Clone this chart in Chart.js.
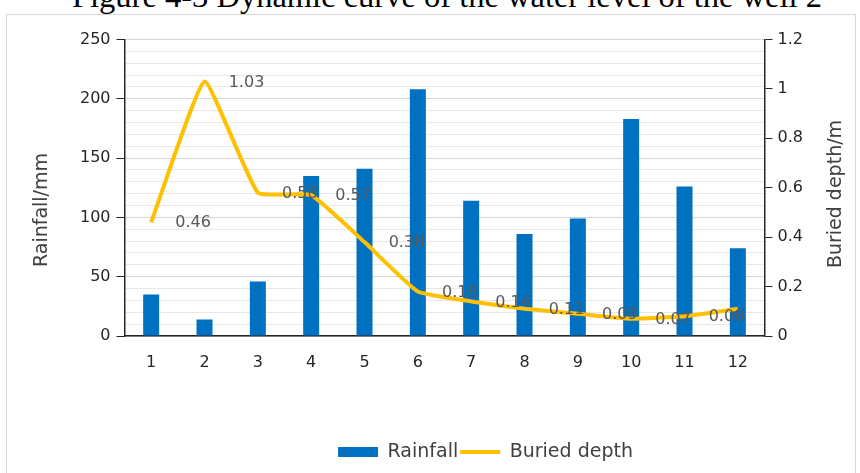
<!DOCTYPE html>
<html>
<head>
<meta charset="utf-8">
<script src="https://cdn.jsdelivr.net/npm/chart.js@4/dist/chart.umd.min.js"></script>
<style>
  html, body { margin: 0; padding: 0; background: #fff; }
  body { width: 860px; height: 473px; position: relative; overflow: hidden; }
  #caption {
    position: absolute; left: 17px; top: -20px; width: 860px;
    text-align: center; white-space: nowrap;
    font-family: "Liberation Serif", serif; font-size: 32.5px; line-height: 32.5px; color: #000;
  }
  #frame { position: absolute; left: 6px; top: 14px; width: 848px; height: 500px; border: 1px solid #d6d6d6; }
  #wrap { position: absolute; left: 0; top: 0; width: 860px; height: 473px; }
</style>
</head>
<body>
<div id="caption">Figure 4-3 Dynamic curve of the water level of the well 2</div>
<div id="frame"></div>
<div id="wrap"><canvas id="myChart"></canvas></div>
<script>
// data
const months = ['1', '2', '3', '4', '5', '6', '7', '8', '9', '10', '11', '12'];
const rainfall = [35, 14, 46, 135, 141, 208, 114, 86, 99, 183, 126, 74];
const buriedDepth = [0.46, 1.03, 0.58, 0.57, 0.38, 0.18, 0.14, 0.11, 0.09, 0.07, 0.08, 0.11];
const rainTicks = [0, 50, 100, 150, 200, 250];
const depthTicks = [0, 0.2, 0.4, 0.6, 0.8, 1, 1.2];

const FONT = 'DejaVu Sans';
const AXIS_COLOR = '#262626';

// value labels sit to the right of each point; a label that would run past the plot is dropped
const pointLabels = {
    id: 'pointLabels',
    afterDatasetsDraw(chart) {
        const meta = chart.getDatasetMeta(1);
        const area = chart.chartArea;
        const ctx = chart.ctx;
        ctx.save();
        ctx.font = '16px "' + FONT + '"';
        ctx.fillStyle = '#595959';
        ctx.textAlign = 'center';
        ctx.textBaseline = 'middle';
        meta.data.forEach(function (pt, i) {
            let txt = buriedDepth[i].toFixed(2);
            let x = pt.x + 42;
            if (x + ctx.measureText(txt).width / 2 > area.right) return;
            ctx.fillText(txt, x, pt.y + 1);
        });
        ctx.restore();
    }
};

// axis titles (placed where the original has them, not centred on the axis)
const axisTitles = {
    id: 'axisTitles',
    afterDraw(chart) {
        const ctx = chart.ctx;
        const drawTitle = function (text, x, y) {
            ctx.save();
            ctx.font = '19px "' + FONT + '"';
            ctx.fillStyle = '#404040';
            ctx.textAlign = 'center';
            ctx.textBaseline = 'middle';
            ctx.translate(x, y);
            ctx.rotate(-Math.PI / 2);
            ctx.fillText(text, 0, 0);
            ctx.restore();
        };
        drawTitle('Rainfall/mm', 42, 210);
        drawTitle('Buried depth/m', 836, 194);
    }
};

// the original legend is centred right of the canvas middle
const legendShift = {
    id: 'legendShift',
    afterLayout(chart) {
        if (chart.legend) chart.legend.left = 111;
    }
};

let canvas = document.getElementById('myChart');
let myChart = new Chart(canvas, {
    type: 'bar',
    data: {
        labels: months,
        datasets: [{
            type: 'bar',
            label: 'Rainfall',
            data: rainfall,
            backgroundColor: '#0070C0',
            borderWidth: 0,
            barPercentage: 0.3,
            categoryPercentage: 1,
            yAxisID: 'y',
            order: 1
        }, {
            type: 'line',
            label: 'Buried depth',
            data: buriedDepth,
            borderColor: '#FFC000',
            backgroundColor: '#FFC000',
            borderWidth: 4,
            pointRadius: 0,
            tension: 0.12,
            yAxisID: 'y1',
            order: 0
        }]
    },
    options: {
        responsive: true,
        maintainAspectRatio: false,
        animation: false,
        layout: { padding: { top: 39.5, left: 0, right: 0, bottom: 1.5 } },
        plugins: {
            tooltip: { enabled: false },
            legend: {
                position: 'bottom',
                labels: {
                    usePointStyle: true,
                    pointStyleWidth: 40,
                    boxHeight: 10,
                    padding: 2,
                    color: '#404040',
                    font: { family: FONT, size: 19 },
                    generateLabels: function (chart) {
                        let items = Chart.defaults.plugins.legend.labels.generateLabels(chart);
                        items.sort(function (a, b) { return a.datasetIndex - b.datasetIndex; });
                        items.forEach(function (it) {
                            if (it.datasetIndex === 0) {
                                it.pointStyle = 'rect';
                                it.lineWidth = 0;
                                it.fillStyle = '#0070C0';
                            } else {
                                it.pointStyle = 'line';
                                it.strokeStyle = '#FFC000';
                                it.lineWidth = 4;
                            }
                        });
                        return items;
                    }
                }
            }
        },
        scales: {
            x: {
                grid: { display: false },
                border: { color: AXIS_COLOR, width: 1.5 },
                ticks: { color: AXIS_COLOR, font: { family: FONT, size: 16 }, padding: 9 },
                afterFit: function (scale) { scale.height = 104.5; }
            },
            y: {
                position: 'left',
                min: 0,
                max: 250,
                border: { color: AXIS_COLOR, width: 1.5 },
                grid: {
                    color: function (c) { return c.tick && c.tick.value % 50 === 0 ? '#d6d6d6' : '#e8e8e8'; },
                    tickColor: function (c) { return c.tick && rainTicks.indexOf(c.tick.value) >= 0 ? AXIS_COLOR : 'rgba(0,0,0,0)'; },
                    tickLength: 8,
                    lineWidth: 1
                },
                ticks: {
                    stepSize: 10,
                    autoSkip: false,
                    padding: 6,
                    color: AXIS_COLOR,
                    font: { family: FONT, size: 16 },
                    callback: function (v) { return rainTicks.indexOf(v) >= 0 ? String(v) : ''; }
                },
                afterFit: function (scale) { scale.width = 124.5; }
            },
            y1: {
                position: 'right',
                min: 0,
                max: 1.2,
                border: { color: AXIS_COLOR, width: 1.5 },
                grid: { drawOnChartArea: false, tickColor: AXIS_COLOR, tickLength: 8 },
                ticks: {
                    padding: 5,
                    color: AXIS_COLOR,
                    font: { family: FONT, size: 16 },
                    callback: function (v) { return String(+v.toFixed(1)); }
                },
                afterBuildTicks: function (scale) {
                    scale.ticks = depthTicks.map(function (v) { return { value: v }; });
                },
                afterFit: function (scale) { scale.width = 95.5; }
            }
        }
    },
    plugins: [pointLabels, axisTitles, legendShift]
});
</script>
</body>
</html>
